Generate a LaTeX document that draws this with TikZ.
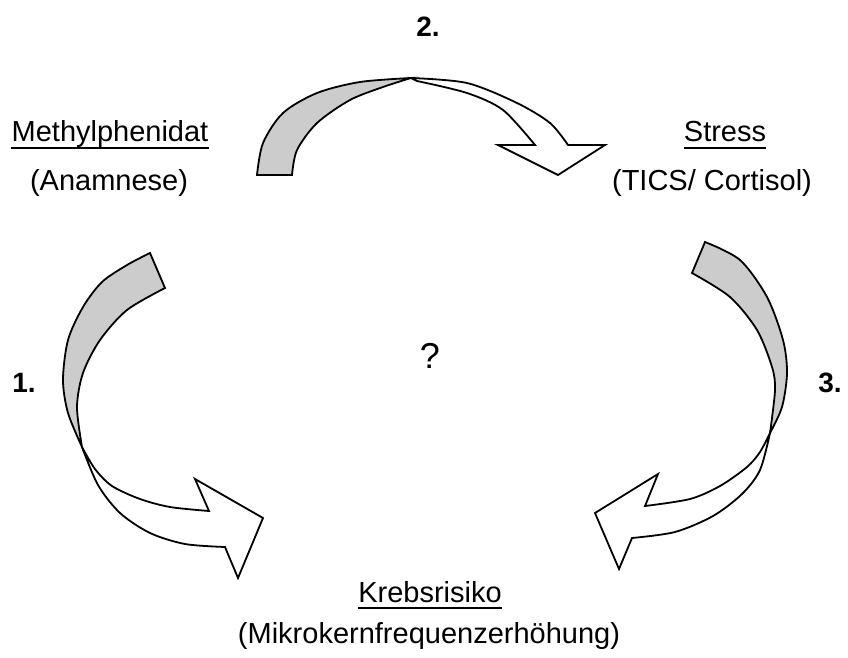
\documentclass[tikz,border=0pt]{standalone}
\usepackage{fontspec}
\setmainfont{Liberation Sans}
\begin{document}
\begin{tikzpicture}[x=1pt,y=-1pt,
  lbl/.style={inner sep=0pt,anchor=base,font=\fontsize{29}{34}\selectfont},
  num/.style={inner sep=0pt,anchor=base,font=\fontsize{28}{34}\selectfont\bfseries},
  back/.style={fill=black!20,draw=black,line width=1.8pt,line join=miter},
  front/.style={fill=white,draw=black,line width=1.8pt,line join=miter},
  ul/.style={line width=1.6pt}]
\useasboundingbox (0,0) rectangle (848,658);

% top arrow (2.)
\path[back] (257,175) -- plot[smooth] coordinates {(257,175) (263,143) (283,113) (317,93) (360,82) (411,78)}
  -- plot[smooth] coordinates {(411,78) (383,87) (350,100) (317,123) (297,150) (292,175)} -- cycle;
\path[front] (411,78) -- plot[smooth] coordinates {(411,78) (467,83) (517,103) (550,123) (568,145)}
  -- (605,145) -- (558,175) -- (498,145) -- (535,145)
  -- plot[smooth] coordinates {(535,145) (503,110) (467,93) (417,81)} -- cycle;

% left arrow (1.)
\path[back] (150,253) -- plot[smooth] coordinates {(150,253) (127,265) (102,282) (83,307) (68,340) (63,380) (68,413) (82,447)}
  -- plot[smooth] coordinates {(82,447) (77,407) (83,373) (100,340) (127,310) (165,288)} -- cycle;
\path[front] (82,447) -- plot[smooth] coordinates {(82,447) (95,469) (112,486) (140,499) (170,507) (209,511)}
  -- (195,479) -- (263,518) -- (238,578) -- (225,547)
  -- plot[smooth] coordinates {(225,547) (185,544) (150,533) (120,513) (98,485) (82,447)} -- cycle;

% right arrow (3.)
\path[back] (705,242) -- plot[smooth] coordinates {(705,242) (740,260) (767,297) (783,340) (787,373) (782,407) (770,433)}
  -- plot[smooth] coordinates {(770,433) (775,390) (772,367) (757,330) (730,297) (692,273)} -- cycle;
\path[front] (770,433) -- plot[smooth] coordinates {(770,433) (760,452) (747,467) (720,486) (690,499) (645,506)}
  -- (658,474) -- (595,513) -- (619,569) -- (632,538)
  -- plot[smooth] coordinates {(632,538) (675,532) (713,516) (742,494) (760,470) (770,433)} -- cycle;

% labels
\node[lbl] (meth) at (110,142) {Methylphenidat};
\draw[ul] ([yshift=-6pt]meth.base west) -- ([yshift=-6pt]meth.base east);
\node[lbl] (anam) at (109,190) {(Anamnese)};

\node[lbl] (stress) at (725,142) {Stress};
\draw[ul] ([yshift=-6pt]stress.base west) -- ([yshift=-6pt]stress.base east);
\node[lbl] (tics) at (712,190) {(TICS/ Cortisol)};

\node[lbl] (krebs) at (430,602) {Krebsrisiko};
\draw[ul] ([yshift=-6pt]krebs.base west) -- ([yshift=-6pt]krebs.base east);
\node[lbl] (mikro) at (429,643) {(Mikrokernfrequenzerhöhung)};

\node[inner sep=0pt,anchor=base,font=\fontsize{36}{40}\selectfont] (q) at (430,368) {?};
\node[num] (n1) at (24,392) {1.};
\node[num] (n2) at (428,37) {2.};
\node[num] (n3) at (830,392) {3.};
\end{tikzpicture}
\end{document}
